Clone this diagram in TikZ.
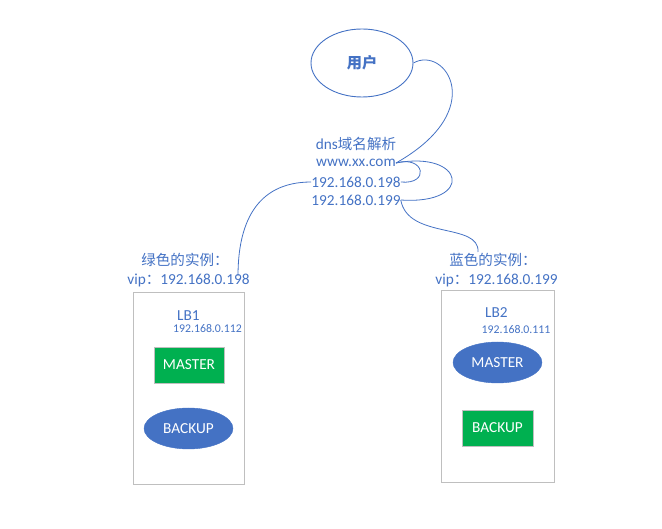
\documentclass[tikz,border=0pt]{standalone}
\usepackage{fontspec}
\setmainfont{Carlito}
\newfontfamily\cjk[Scale=0.95]{Noto Sans CJK SC}
\usepackage{tikz}
\usetikzlibrary{shapes.geometric,calc}
\definecolor{Blue}{HTML}{4472C4}
\definecolor{Green}{HTML}{00B050}
\definecolor{Grey}{HTML}{BFBFBF}

\begin{document}
\begin{tikzpicture}[x=1pt,y=-1pt,
    txt/.style={text=Blue,inner sep=0pt,font=\fontsize{15.3}{18}\selectfont},
    ipsm/.style={text=Blue,inner sep=0pt,font=\fontsize{11.8}{14}\selectfont},
    sq/.style={draw=Grey,fill=Green,text=white,minimum width=70,minimum height=36,
      inner sep=0pt,font=\fontsize{15.3}{18}\selectfont},
    el/.style={ellipse,draw=Blue,fill=Blue,text=white,minimum width=89,minimum height=41,
      inner sep=0pt,font=\fontsize{15.3}{18}\selectfont},
    lbbox/.style={draw=Grey,line width=0.8pt,minimum width=111,minimum height=192},
    ln/.style={Blue,line width=0.8pt}]
  \useasboundingbox (0,0) rectangle (662,529);

  % user and dns
  \node[ellipse,draw=Blue,line width=0.9pt,minimum width=102,minimum height=68,
    text=Blue,font=\fontsize{16}{18}\selectfont] (user) at (362,63) {\cjk\bfseries 用户};
  \node[txt] (dns) at (356,144) {dns{\cjk 域名解析}};
  \node[txt] (www) at (356,163) {www.xx.com};
  \node[txt] (ip198) at (356,182) {192.168.0.198};
  \node[txt] (ip199) at (356,200) {192.168.0.199};

  % green instance
  \node[txt] (glab) at (185,260) {\cjk 绿色的实例：};
  \node[txt] (gvip) at (188.5,280) {vip{\cjk ：}192.168.0.198};
  \node[lbbox] (box1) at (188.5,388) {};
  \node[txt] (lb1) at (188.5,316) {LB1};
  \node[ipsm] (ip112) at (207.5,329) {192.168.0.112};
  \node[sq] (master1) at (189,365) {MASTER};
  \node[el] (backup1) at (188.5,428.5) {BACKUP};

  % blue instance
  \node[txt] (blab) at (493,260) {\cjk 蓝色的实例：};
  \node[txt] (bvip) at (496.5,280) {vip{\cjk ：}192.168.0.199};
  \node[lbbox,minimum width=113] (box2) at (497.5,386) {};
  \node[txt] (lb2) at (496.5,313) {LB2};
  \node[ipsm] (ip111) at (516,330) {192.168.0.111};
  \node[el] (master2) at (497.5,362.5) {MASTER};
  \node[sq,minimum width=71] (backup2) at (497.5,428) {BACKUP};

  \coordinate (gtop) at (238,276);
  \coordinate (btop) at (478,252);

  % curves
  \draw[ln] (user.east) .. controls (445,45) and (490,110) .. (www.east);
  \draw[ln] (www.east) .. controls (425,155) and (430,185) .. (ip198.east);
  \draw[ln] (www.east) .. controls (465,150) and (475,205) .. (ip199.east);
  \draw[ln] (ip198.west) .. controls (255,182) and (238,225) .. (gtop);
  \draw[ln] (ip199.east) .. controls (408,240) and (480,222) .. (btop);
\end{tikzpicture}
\end{document}
